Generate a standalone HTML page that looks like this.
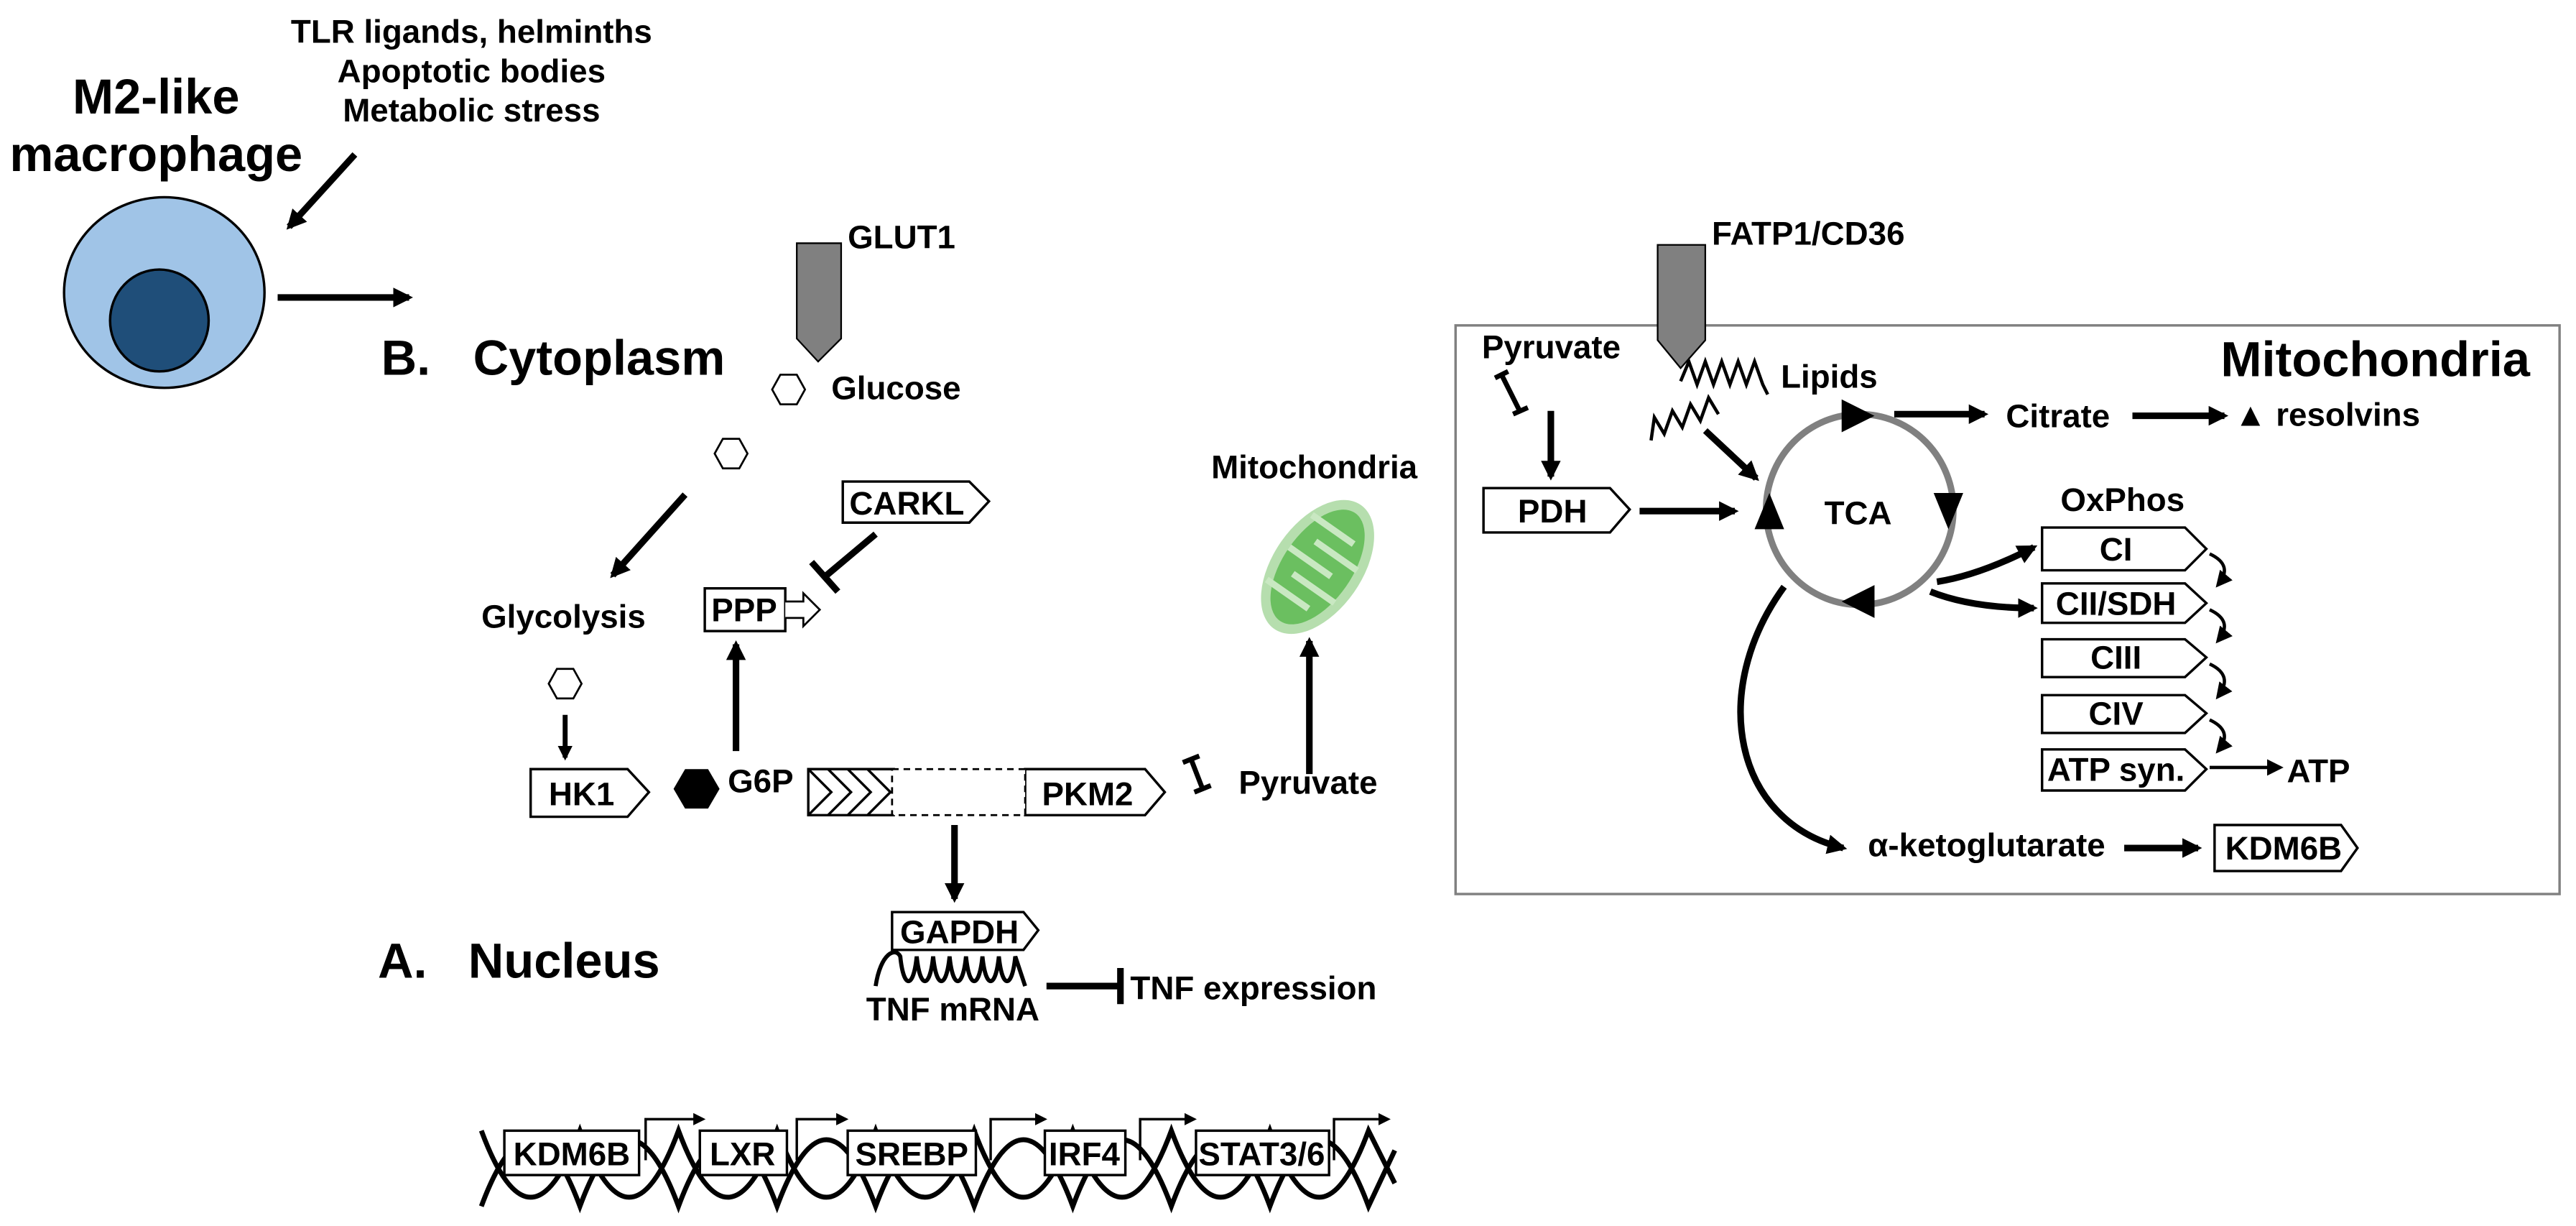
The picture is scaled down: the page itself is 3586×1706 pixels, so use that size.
<!DOCTYPE html>
<html><head><meta charset="utf-8"><style>
html,body{margin:0;padding:0;background:#fff;}
svg{display:block;}
text{font-family:"Liberation Sans",Arial,sans-serif;font-weight:bold;fill:#000;}
</style></head><body>
<svg width="3586" height="1706" viewBox="0 0 1568 746" preserveAspectRatio="none" xmlns="http://www.w3.org/2000/svg">
<defs>
<marker id="ah" viewBox="0 0 10 10" refX="8" refY="5" markerWidth="3" markerHeight="3" orient="auto"><path d="M0,0 L10,5 L0,10 z" fill="#000"/></marker>
<marker id="ahs" viewBox="0 0 10 10" refX="8" refY="5" markerWidth="5" markerHeight="5" orient="auto"><path d="M0,0 L10,5 L0,10 z" fill="#000"/></marker>
</defs>
<g stroke="#000" stroke-width="4" fill="none">
<line x1="216" y1="94" x2="176" y2="138" marker-end="url(#ah)"/>
<line x1="169" y1="181" x2="249" y2="181" marker-end="url(#ah)"/>
<line x1="417" y1="301" x2="373" y2="350" marker-end="url(#ah)"/>
<line x1="344" y1="435" x2="344" y2="461" stroke-width="3" marker-end="url(#ah)"/>
<line x1="448" y1="457" x2="448" y2="392" marker-end="url(#ah)"/>
<line x1="581" y1="502" x2="581" y2="547" marker-end="url(#ah)"/>
<line x1="797" y1="471" x2="797" y2="390" marker-end="url(#ah)"/>
<line x1="533" y1="325" x2="502" y2="351"/>
<line x1="494" y1="342" x2="510" y2="360"/>
<line x1="637" y1="600" x2="682" y2="600"/>
<line x1="682" y1="589" x2="682" y2="611"/>
</g>
<ellipse cx="100" cy="178" rx="61" ry="58" fill="#a0c4e7" stroke="#000" stroke-width="1.5"/>
<ellipse cx="97" cy="195" rx="30" ry="31" fill="#1f4e79" stroke="#000" stroke-width="1.5"/>
<text x="95" y="69" font-size="30" text-anchor="middle">M2-like</text>
<text x="95" y="104" font-size="30" text-anchor="middle">macrophage</text>
<text x="287" y="26" font-size="20" text-anchor="middle">TLR ligands, helminths</text>
<text x="287" y="50" font-size="20" text-anchor="middle">Apoptotic bodies</text>
<text x="287" y="74" font-size="20" text-anchor="middle">Metabolic stress</text>
<text x="232" y="228" font-size="30">B.</text>
<text x="288" y="228" font-size="30">Cytoplasm</text>
<text x="230" y="595" font-size="30">A.</text>
<text x="285" y="595" font-size="30">Nucleus</text>
<path d="M485,148 H512 V206 L498,220 L485,206 Z" fill="#808080" stroke="#000" stroke-width="1"/>
<text x="516" y="151" font-size="20">GLUT1</text>
<g fill="#fff" stroke="#000" stroke-width="1.2">
<polygon points="470,237 475,228 485,228 490,237 485,246 475,246"/>
<polygon points="435,276 440,267 450,267 455,276 450,285 440,285"/>
<polygon points="334,416 339,407 349,407 354,416 349,425 339,425"/>
</g>
<polygon points="410,480 417,468 431,468 438,480 431,492 417,492" fill="#000"/>
<text x="506" y="243" font-size="20">Glucose</text>
<text x="343" y="382" font-size="20" text-anchor="middle">Glycolysis</text>
<text x="443" y="482" font-size="20">G6P</text>
<g fill="#fff" stroke="#000" stroke-width="1.5">
<polygon points="323,468 382,468 395,482 382,497 323,497"/>
<rect x="429" y="358" width="49" height="26"/>
<polygon points="513,293 590,293 602,305 590,318 513,318"/>
<polygon points="492,468 544,468 544,496 492,496"/>
<polygon points="624,468 697,468 709,482 697,496 624,496"/>
<polygon points="543,555 623,555 632,566 623,578 543,578"/>
</g>
<rect x="543" y="468" width="81" height="28" fill="#fff" stroke="#000" stroke-width="1.2" stroke-dasharray="4,3"/>
<path d="M492,468 L506,482 L492,496 M504,468 L518,482 L504,496 M516,468 L530,482 L516,496 M528,468 L542,482 L528,496" stroke="#000" stroke-width="1.5" fill="none"/>
<path d="M478,366 H489 V361 L499,371 L489,381 V376 H478" fill="#fff" stroke="#000" stroke-width="1.2"/>
<text x="354" y="490" font-size="20" text-anchor="middle">HK1</text>
<text x="453" y="378" font-size="20" text-anchor="middle">PPP</text>
<text x="552" y="313" font-size="20" text-anchor="middle">CARKL</text>
<text x="662" y="490" font-size="20" text-anchor="middle">PKM2</text>
<text x="584" y="574" font-size="20" text-anchor="middle">GAPDH</text>
<path d="M720,464 L730,460 M725,462 L732,480 M727,482 L737,478" stroke="#000" stroke-width="3" fill="none"/>
<text x="754" y="483" font-size="20">Pyruvate</text>
<text x="800" y="291" font-size="20" text-anchor="middle">Mitochondria</text>
<g transform="translate(802,345) rotate(35)">
<ellipse cx="0" cy="0" rx="27" ry="46" fill="#a9d8a0" opacity="0.85"/>
<ellipse cx="0" cy="0" rx="21" ry="40" fill="#6bbf60"/>
<path d="M-21,-24 H10 M21,-12 H-10 M-21,0 H10 M21,12 H-10 M-21,24 H10" stroke="#c9e8c2" stroke-width="4" fill="none"/>
</g>
<path d="M533,600 C536,580 545,576 548,582 C550,602 556,602 558,582 C560,602 566,602 568,582 C570,602 576,602 578,582 C580,602 586,602 588,582 C590,602 596,602 598,582 C600,602 606,602 608,582 C610,602 616,602 618,582 L624,600" stroke="#000" stroke-width="2.5" fill="none"/>
<text x="580" y="621" font-size="20" text-anchor="middle">TNF mRNA</text>
<text x="688" y="608" font-size="20">TNF expression</text>
<!-- DNA -->
<path d="M293,734 C313,680 333,680 353,734 C373,680 393,680 413,734 C433,680 453,680 473,734 C493,680 513,680 533,734 C553,680 573,680 593,734 C613,680 633,680 653,734 C673,680 693,680 713,734 C733,680 753,680 773,734 C793,680 813,680 833,734 L849,700" stroke="#000" stroke-width="3" fill="none"/>
<path d="M293,688 C313,742 333,742 353,688 C373,742 393,742 413,688 C433,742 453,742 473,688 C493,742 513,742 533,688 C553,742 573,742 593,688 C613,742 633,742 653,688 C673,742 693,742 713,688 C733,742 753,742 773,688 C793,742 813,742 833,688 L849,720" stroke="#000" stroke-width="3" fill="none"/>
<g fill="#fff" stroke="#000" stroke-width="1.5">
<rect x="307" y="688" width="82" height="27"/>
<rect x="426" y="688" width="53" height="27"/>
<rect x="516" y="688" width="78" height="27"/>
<rect x="636" y="688" width="49" height="27"/>
<rect x="728" y="688" width="81" height="27"/>
</g>
<g font-size="20" text-anchor="middle">
<text x="348" y="709">KDM6B</text><text x="452" y="709">LXR</text><text x="555" y="709">SREBP</text><text x="660" y="709">IRF4</text><text x="768" y="709">STAT3/6</text>
</g>
<g stroke="#000" stroke-width="1.5" fill="none">
<path d="M393,706 V681 H428" marker-end="url(#ahs)"/>
<path d="M485,706 V681 H515" marker-end="url(#ahs)"/>
<path d="M603,706 V681 H636" marker-end="url(#ahs)"/>
<path d="M694,706 V681 H727" marker-end="url(#ahs)"/>
<path d="M812,706 V681 H845" marker-end="url(#ahs)"/>
</g>
<!-- right -->
<rect x="886" y="198" width="672" height="346" fill="none" stroke="#808080" stroke-width="1.5"/>
<path d="M1009,149 H1038 V207 L1023,224 L1009,207 Z" fill="#808080" stroke="#000" stroke-width="1"/>
<text x="1042" y="149" font-size="20">FATP1/CD36</text>
<text x="1540" y="229" font-size="30" text-anchor="end">Mitochondria</text>
<text x="902" y="218" font-size="20">Pyruvate</text>
<path d="M910,230 L918,226 M914,228 L925,250 M921,252 L930,248" stroke="#000" stroke-width="3" fill="none"/>
<g stroke="#000" stroke-width="4" fill="none">
<line x1="944" y1="250" x2="944" y2="290" marker-end="url(#ah)"/>
<line x1="998" y1="311" x2="1056" y2="311" marker-end="url(#ah)"/>
<line x1="1038" y1="262" x2="1069" y2="291" marker-end="url(#ah)"/>
<line x1="1153" y1="252" x2="1208" y2="252" marker-end="url(#ah)"/>
<line x1="1298" y1="253" x2="1354" y2="253" marker-end="url(#ah)"/>
<line x1="1293" y1="516" x2="1338" y2="516" marker-end="url(#ah)"/>
<path d="M1179,354 Q1205,350 1238,333" marker-end="url(#ah)"/>
<path d="M1175,360 Q1200,370 1238,370" marker-end="url(#ah)"/>
<path d="M1086,357 C1040,420 1055,500 1122,516" marker-end="url(#ah)"/>
</g>
<path d="M1023,232 l5,-12 l5,14 l5,-14 l5,14 l5,-14 l5,14 l5,-14 l5,14 l5,-14 l5,14 l3,6" stroke="#000" stroke-width="2" fill="none"/>
<path d="M1005,268 l2,-14 l6,10 l5,-14 l6,10 l5,-14 l6,10 l5,-14 l6,10" stroke="#000" stroke-width="2" fill="none"/>
<text x="1084" y="236" font-size="20">Lipids</text>
<polygon points="903,297 980,297 992,310 980,324 903,324" fill="#fff" stroke="#000" stroke-width="1.5"/>
<text x="945" y="318" font-size="20" text-anchor="middle">PDH</text>
<ellipse cx="1132" cy="310" rx="57" ry="58" fill="none" stroke="#808080" stroke-width="4"/>
<text x="1131" y="319" font-size="20" text-anchor="middle">TCA</text>
<g fill="#000">
<polygon points="1121,243 1141,253 1121,263"/>
<polygon points="1177,300 1195,300 1186,322"/>
<polygon points="1141,356 1141,376 1121,366"/>
<polygon points="1068,322 1086,322 1077,300"/>
</g>
<text x="1221" y="260" font-size="20">Citrate</text>
<text x="1360" y="259" font-size="20">▲ resolvins</text>
<text x="1292" y="311" font-size="20" text-anchor="middle">OxPhos</text>
<g fill="#fff" stroke="#000" stroke-width="1.5">
<polygon points="1243,321 1330,321 1343,334 1330,347 1243,347"/>
<polygon points="1243,355 1330,355 1343,367 1330,379 1243,379"/>
<polygon points="1243,389 1330,389 1343,400 1330,412 1243,412"/>
<polygon points="1243,423 1330,423 1343,434 1330,446 1243,446"/>
<polygon points="1243,456 1330,456 1343,468 1330,481 1243,481"/>
<polygon points="1348,502 1425,502 1435,516 1425,530 1348,530"/>
</g>
<g font-size="20" text-anchor="middle">
<text x="1288" y="341">CI</text><text x="1288" y="374">CII/SDH</text><text x="1288" y="407">CIII</text><text x="1288" y="441">CIV</text><text x="1288" y="475">ATP syn.</text><text x="1390" y="523">KDM6B</text>
</g>
<g stroke="#000" stroke-width="2" fill="none">
<path d="M1345,337 Q1360,344 1350,356" marker-end="url(#ahs)"/>
<path d="M1345,371 Q1360,378 1350,390" marker-end="url(#ahs)"/>
<path d="M1345,404 Q1360,411 1350,424" marker-end="url(#ahs)"/>
<path d="M1345,438 Q1360,445 1350,457" marker-end="url(#ahs)"/>
<line x1="1345" y1="467" x2="1388" y2="467" marker-end="url(#ahs)"/>
</g>
<text x="1392" y="476" font-size="20">ATP</text>
<text x="1137" y="521" font-size="20">α-ketoglutarate</text>
</svg>
</body></html>
